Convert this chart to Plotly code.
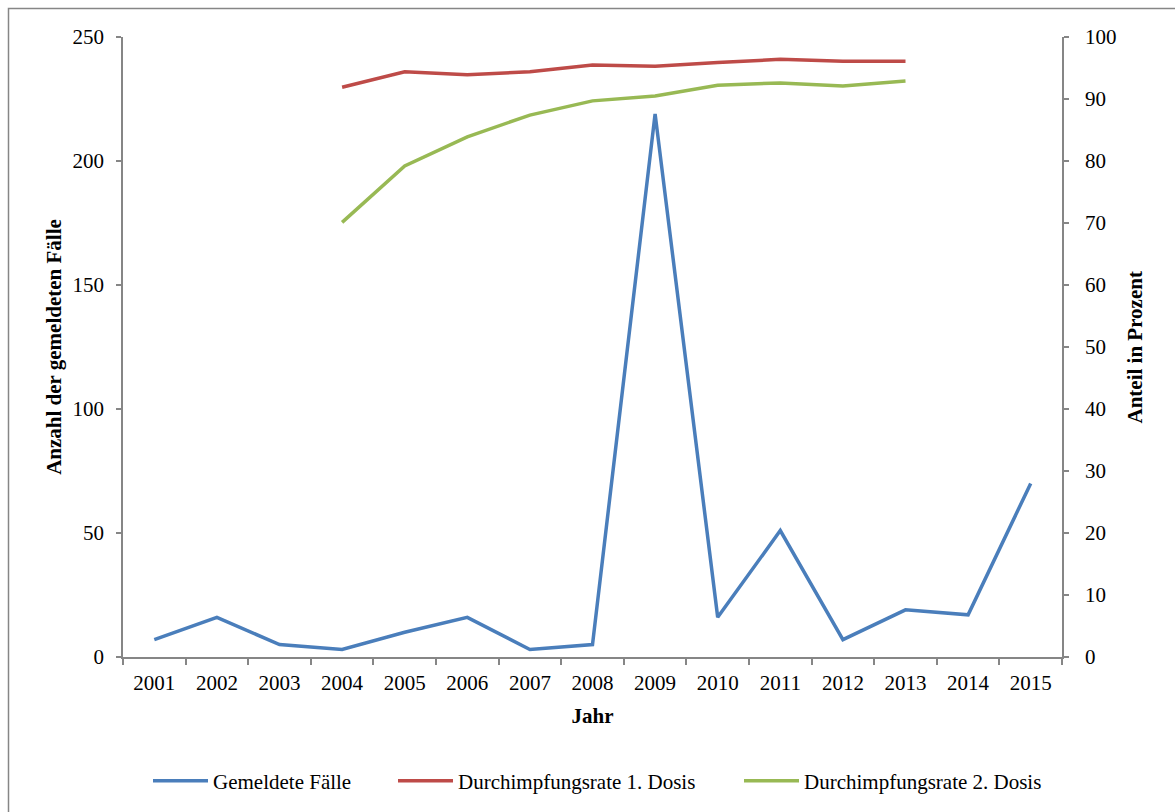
import plotly.graph_objects as go

# Jahre und Werte
jahre = [str(y) for y in range(2001, 2016)]
gemeldete_faelle = [7, 16, 5, 3, 10, 16, 3, 5, 219, 16, 51, 7, 19, 17, 70]
impf_jahre = [str(y) for y in range(2004, 2014)]
dosis_1 = [91.9, 94.4, 93.9, 94.4, 95.5, 95.3, 95.9, 96.4, 96.1, 96.1]
dosis_2 = [70.1, 79.2, 83.9, 87.4, 89.7, 90.5, 92.2, 92.6, 92.1, 92.9]

FONT = "Liberation Serif"
FS = 21
AXIS_GREY = "#868686"

# Plotfläche in Pixeln
L, R, T, B = 123, 113, 37, 154
W, H = 1175, 812
pw, ph = W - L - R, H - T - B

def px_x(px):
    return (px - L) / pw

def px_y(py):
    return (H - B - py) / ph

fig = go.Figure()
fig.add_trace(go.Scatter(x=jahre, y=gemeldete_faelle, mode="lines", name="Gemeldete Fälle",
                         line=dict(color="#4A7EBB", width=3.5), legend="legend"))
fig.add_trace(go.Scatter(x=impf_jahre, y=dosis_1, mode="lines", name="Durchimpfungsrate 1. Dosis",
                         line=dict(color="#BE4B48", width=3.5), yaxis="y2", legend="legend2"))
fig.add_trace(go.Scatter(x=impf_jahre, y=dosis_2, mode="lines", name="Durchimpfungsrate 2. Dosis",
                         line=dict(color="#98B954", width=3.5), yaxis="y2", legend="legend3"))

def legend_at(px_left):
    return dict(orientation="h", x=px_x(px_left), xanchor="left", y=px_y(781), yanchor="middle",
                font=dict(family=FONT, size=FS), itemwidth=55, bgcolor="rgba(0,0,0,0)")

fig.update_layout(
    width=W, height=H,
    margin=dict(l=L, r=R, t=T, b=B),
    paper_bgcolor="white", plot_bgcolor="white",
    font=dict(family=FONT, size=FS, color="black"),
    showlegend=True,
    legend=legend_at(148),
    legend2=legend_at(393),
    legend3=legend_at(739),
    xaxis=dict(
        type="category", categoryorder="array", categoryarray=jahre,
        range=[-0.5, len(jahre) - 0.5],
        showline=True, linecolor=AXIS_GREY, linewidth=1.5,
        ticks="outside", tickson="boundaries", ticklen=6, tickcolor=AXIS_GREY, tickwidth=1.5,
        showgrid=False, zeroline=False, ticklabelstandoff=6,
        title=dict(text="<b>Jahr</b>", font=dict(family=FONT, size=FS), standoff=14),
    ),
    yaxis=dict(
        range=[0, 250], tickvals=[0, 50, 100, 150, 200, 250],
        showline=True, linecolor=AXIS_GREY, linewidth=1.5,
        ticks="outside", ticklen=5, tickcolor=AXIS_GREY, tickwidth=1.5,
        showgrid=False, zeroline=False, ticklabelstandoff=8,
        title=dict(text="<b>Anzahl der gemeldeten Fälle</b>", font=dict(family=FONT, size=FS),
                   standoff=5),
    ),
    yaxis2=dict(
        range=[0, 100], tickvals=list(range(0, 101, 10)),
        overlaying="y", side="right",
        showline=True, linecolor=AXIS_GREY, linewidth=1.5,
        ticks="outside", ticklen=5, tickcolor=AXIS_GREY, tickwidth=1.5,
        showgrid=False, zeroline=False, ticklabelstandoff=12,
    ),
)

# Titel der rechten Achse
fig.add_annotation(text="<b>Anteil in Prozent</b>", xref="paper", yref="paper",
                   x=px_x(1135), y=px_y(348), textangle=-90, showarrow=False,
                   font=dict(family=FONT, size=FS), xanchor="center", yanchor="middle")

# Rahmen um das gesamte Diagramm
fig.add_shape(type="rect", xref="paper", yref="paper",
              x0=px_x(8.5), x1=px_x(1185), y0=px_y(820), y1=px_y(8.5),
              line=dict(color=AXIS_GREY, width=1.5), fillcolor="rgba(0,0,0,0)", layer="below")

fig.write_html("out.html")
